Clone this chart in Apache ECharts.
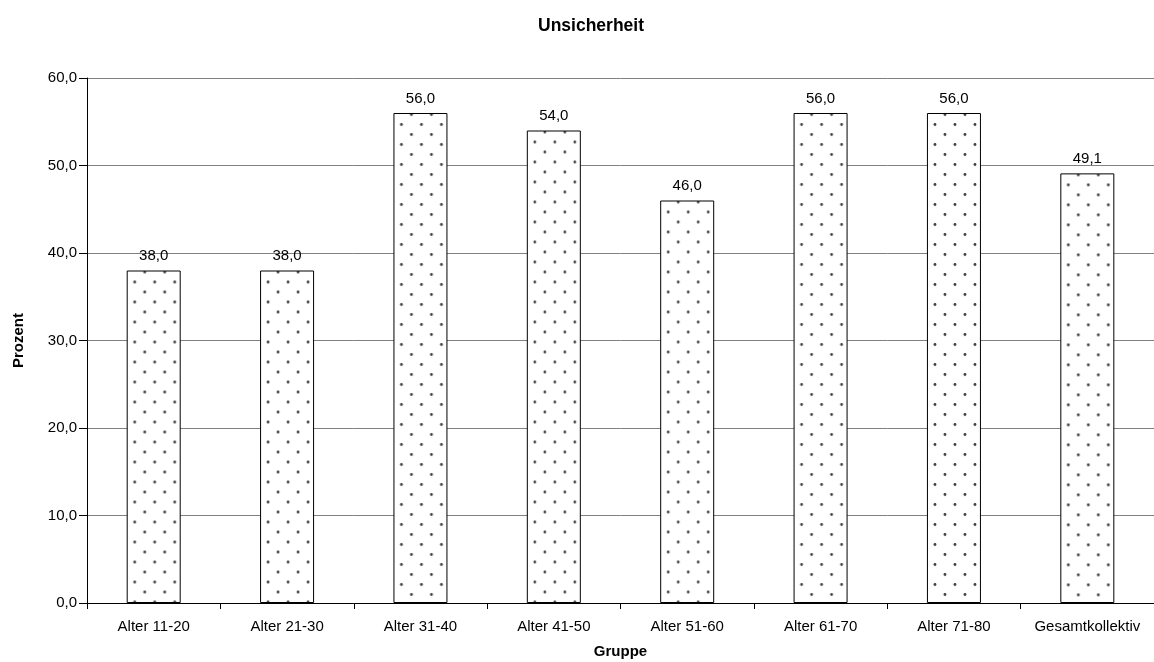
<!DOCTYPE html>
<html>
<head>
<meta charset="utf-8">
<script src="https://cdn.jsdelivr.net/npm/echarts@6/dist/echarts.min.js"></script>
<style>
  html, body { margin: 0; padding: 0; background: #fff; }
  #chart { width: 1154px; height: 662px; }
</style>
</head>
<body>
<div id="chart"></div>
<script>
const categories = ['Alter 11-20', 'Alter 21-30', 'Alter 31-40', 'Alter 41-50', 'Alter 51-60', 'Alter 61-70', 'Alter 71-80', 'Gesamtkollektiv'];
const values = [38.0, 38.0, 56.0, 54.0, 46.0, 56.0, 56.0, 49.1];
const yTicks = [0, 10, 20, 30, 40, 50, 60];

const BAR_W = 54;

// Dotted fill tile: staggered grey dots on white
function dotTile() {
  const c = document.createElement('canvas');
  c.width = 20; c.height = 20;
  const g = c.getContext('2d');
  g.fillStyle = '#ffffff';
  g.fillRect(0, 0, 20, 20);
  g.fillStyle = '#404040';
  [[18, 1.5], [8, 11.5]].forEach(([x, y]) => {
    g.beginPath();
    g.arc(x, y, 1.4, 0, Math.PI * 2);
    g.fill();
  });
  return c;
}
const tile = dotTile();

const fmt = v => v.toFixed(1).replace('.', ',');
const font = 'Liberation Sans, Arial, sans-serif';

const chart = echarts.init(document.getElementById('chart'), null, { renderer: 'canvas' });

function buildOption(data) {
  return {
    animation: false,
    backgroundColor: '#fff',
    title: {
      text: 'Unsicherheit',
      left: 533,
      top: 12,
      textStyle: { fontFamily: font, fontSize: 17.5, fontWeight: 'bold', color: '#000' }
    },
    grid: { left: 87, right: 0, top: 78, bottom: 59, outerBoundsMode: 'none', containLabel: false },
    xAxis: {
      type: 'category',
      data: categories,
      name: 'Gruppe',
      nameLocation: 'middle',
      nameGap: 41,
      nameTextStyle: { fontFamily: font, fontSize: 15, fontWeight: 'bold', color: '#000' },
      axisLine: { lineStyle: { color: '#000', width: 1 } },
      axisTick: { show: true, interval: 0, length: 6, lineStyle: { color: '#000' } },
      axisLabel: { interval: 0, fontFamily: font, fontSize: 15, color: '#000', margin: 16 }
    },
    yAxis: {
      type: 'value',
      min: 0, max: 60, interval: 10,
      name: 'Prozent',
      nameLocation: 'middle',
      nameGap: 61,
      nameTextStyle: { fontFamily: font, fontSize: 15, fontWeight: 'bold', color: '#000' },
      axisLine: { show: true, lineStyle: { color: '#000', width: 1 } },
      axisTick: { show: true, length: 8, lineStyle: { color: '#000' } },
      axisLabel: {
        fontFamily: font, fontSize: 15, color: '#000', margin: 10,
        formatter: v => yTicks.includes(v) ? fmt(v) : ''
      },
      splitLine: { show: true, lineStyle: { color: '#808080', width: 1 } }
    },
    series: [{
      type: 'bar',
      data: data,
      barWidth: BAR_W,
      itemStyle: {
        color: { image: tile, repeat: 'repeat' },
        borderColor: '#000',
        borderWidth: 1
      },
      label: {
        show: true,
        position: 'top',
        distance: 7,
        fontFamily: font,
        fontSize: 15,
        color: '#000',
        formatter: p => fmt(p.value)
      }
    }]
  };
}

chart.setOption(buildOption(values));

// Anchor each bar's dot pattern to the bar's own top-left corner
const anchored = values.map((v, i) => {
  const [cx, top] = chart.convertToPixel({ gridIndex: 0 }, [i, v]);
  return {
    value: v,
    itemStyle: {
      color: { image: tile, repeat: 'repeat', x: cx - BAR_W / 2, y: top }
    }
  };
});
chart.setOption({ series: [{ data: anchored }] });
</script>
</body>
</html>
